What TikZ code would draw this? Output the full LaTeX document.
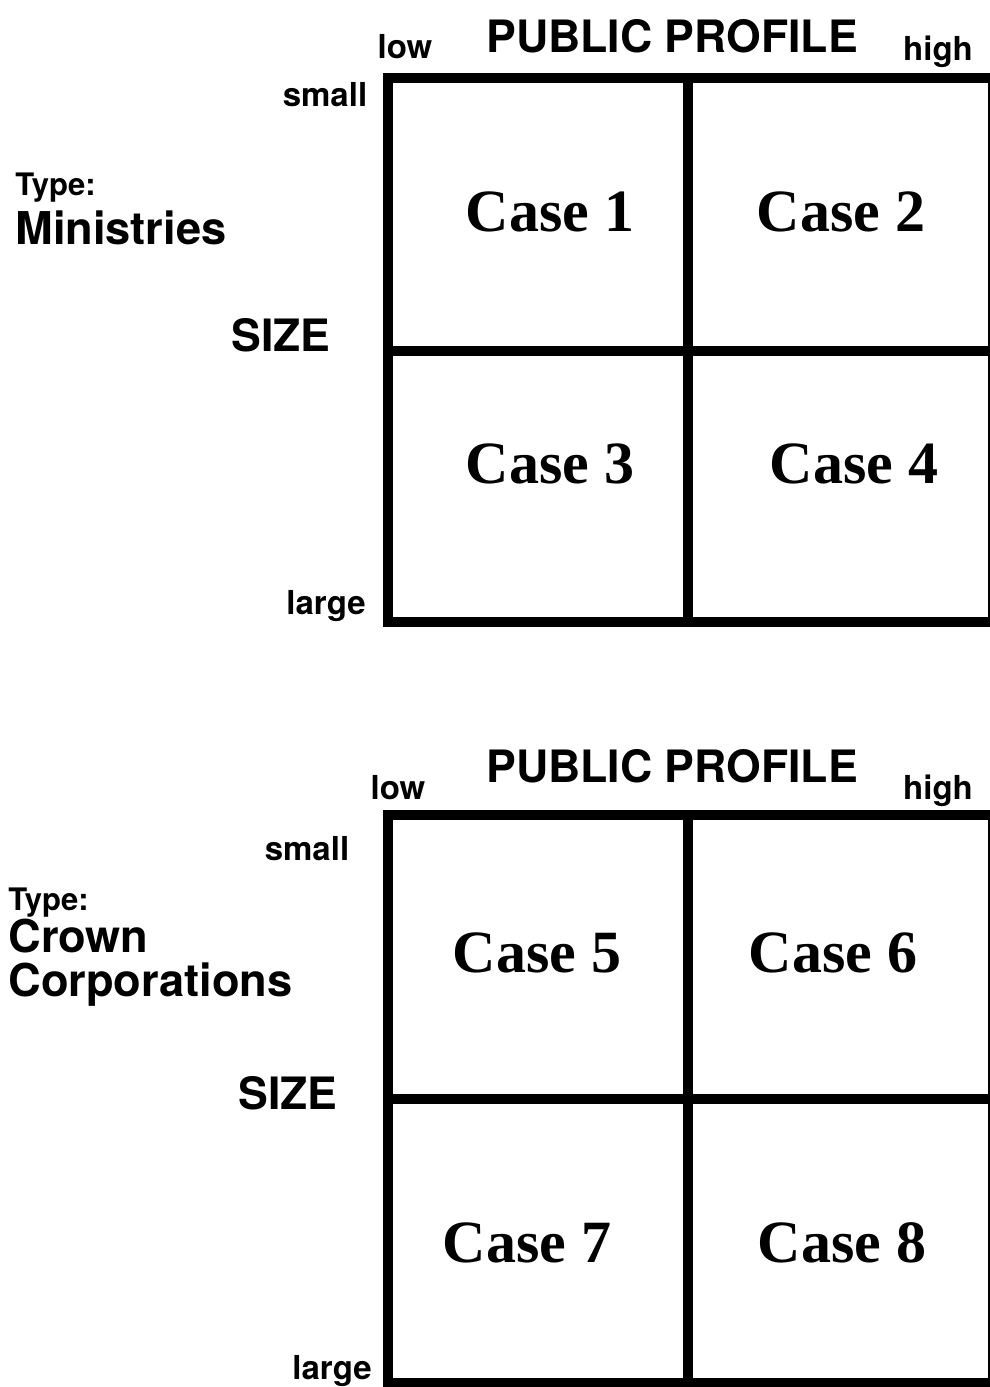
\documentclass[tikz,border=0pt]{standalone}
\usepackage{fontspec}
\setmainfont{Liberation Serif}
\setsansfont{TeX Gyre Heros}
\usetikzlibrary{positioning}

\begin{document}
\begin{tikzpicture}[x=0.5pt,y=-0.5pt,
  axis/.style={font=\sffamily\bfseries\fontsize{22.3}{24}\selectfont,anchor=base},
  tick/.style={font=\sffamily\bfseries\fontsize{16.5}{19}\selectfont,anchor=base},
  kind/.style={font=\sffamily\bfseries\fontsize{22.6}{24}\selectfont,anchor=base west,inner sep=0pt},
  typelbl/.style={font=\sffamily\bfseries\fontsize{15.5}{17}\selectfont,anchor=base west,inner sep=0pt},
  case/.style={font=\rmfamily\bfseries\fontsize{30}{32}\selectfont,anchor=base},
  gridline/.style={line width=4.6pt}]
\useasboundingbox (0,0) rectangle (990,1387);
\clip (0,0) rectangle (990,1387);
% ministries
\draw[gridline] (388,78) rectangle (993,622);
\draw[gridline] (388,351) -- (993,351);
\draw[gridline] (688,78) -- (688,622);
\node[axis] (prof1) at (672,52) {PUBLIC PROFILE};
\node[tick] (low1) at (405,58) {low};
\node[tick] (high1) at (938,60) {high};
\node[tick] (small1) at (325,106) {small};
\node[tick] (large1) at (326,614) {large};
\node[typelbl] (type1) at (15,195) {Type:};
\node[kind] (kind1) at (15,244) {Ministries};
\node[axis] (size1) at (281,351) {SIZE};
\node[case] (c1) at (550,231) {Case 1};
\node[case] (c2) at (841,231) {Case 2};
\node[case] (c3) at (550,483) {Case 3};
\node[case] (c4) at (854,483) {Case 4};
% crown corporations
\draw[gridline] (388,815) rectangle (993,1383);
\draw[gridline] (388,1099) -- (993,1099);
\draw[gridline] (688,815) -- (688,1383);
\node[axis] (prof2) at (672,782) {PUBLIC PROFILE};
\node[tick] (low2) at (398,799) {low};
\node[tick] (high2) at (938,799) {high};
\node[tick] (small2) at (307,860) {small};
\node[tick] (large2) at (332,1379) {large};
\node[typelbl] (type2) at (8,910) {Type:};
\node[kind] (kind2) at (8,952) {Crown};
\node[kind] (kind3) at (8,996) {Corporations};
\node[axis] (size2) at (288,1109) {SIZE};
\node[case] (c5) at (537,972) {Case 5};
\node[case] (c6) at (833,972) {Case 6};
\node[case] (c7) at (527,1262) {Case 7};
\node[case] (c8) at (842,1262) {Case 8};
\end{tikzpicture}
\end{document}
